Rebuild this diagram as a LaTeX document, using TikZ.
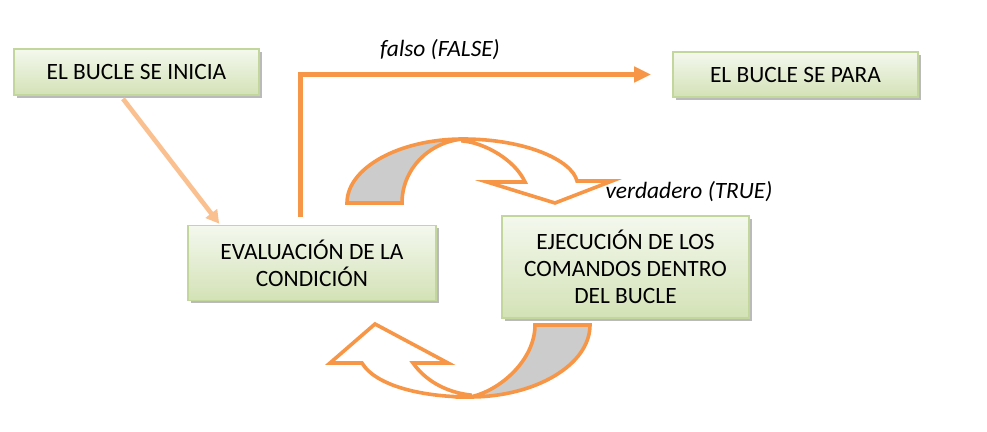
\documentclass[tikz,border=0pt]{standalone}
\usepackage{fontspec}
\setmainfont{Carlito}
\usepackage{xcolor}
\usepackage{tikz}
\usetikzlibrary{arrows.meta, positioning, shadows}
\definecolor{boxline}{HTML}{C3D69B}
\definecolor{boxtop}{HTML}{F4F8EE}
\definecolor{boxbottom}{HTML}{D3E2B6}
\definecolor{looporange}{HTML}{F79646}
\definecolor{startpeach}{HTML}{FAC090}
\definecolor{backgray}{HTML}{CCCCCC}

\begin{document}
\begin{tikzpicture}[x=0.5pt, y=-0.5pt,
	stepbox/.style={shape=rectangle, draw=boxline, line width=0.8pt, top color=boxtop, bottom color=boxbottom, inner sep=0pt, align=center, font=\fontsize{11.7}{13.6}\selectfont, drop shadow={shadow xshift=1.4pt, shadow yshift=-1.4pt, fill=black!45, opacity=0.6}},
	flowarrow/.style={draw=looporange, line width=2.5pt, -{Triangle[length=8.5pt, width=7.5pt]}},
	startarrow/.style={draw=startpeach, line width=2.3pt, -{Triangle[length=6.5pt, width=7pt]}},
	looparrow/.style={draw=looporange, line width=1.8pt, line join=miter},
	branchlabel/.style={font=\fontsize{11.7}{13.6}\selectfont\itshape}]
			\useasboundingbox (0, 0) rectangle (987, 432);
			% Boxes:
			\node[stepbox, minimum width=122.5pt, minimum height=23pt](inicio) at (136.5, 72){EL BUCLE SE INICIA};
			\node[stepbox, minimum width=122.5pt, minimum height=22.5pt](para) at (795.5, 74.5){EL BUCLE SE PARA};
			\node[stepbox, minimum width=124pt, minimum height=37.5pt](evaluacion) at (312, 263){EVALUACIÓN DE LA\\CONDICIÓN};
			\node[stepbox, minimum width=123.5pt, minimum height=51pt](ejecucion) at (625.5, 267){EJECUCIÓN DE LOS\\COMANDOS DENTRO\\DEL BUCLE};
			% Labels:
			\node[branchlabel](falso) at (440, 50){falso (FALSE)};
			\node[branchlabel](verdadero) at (689, 192){verdadero (TRUE)};
			% Connectors:
			\coordinate (salida) at (300, 217);
			\draw[startarrow] ([xshift=-6.75pt, yshift=-1.5pt]inicio.south) -- ([xshift=16pt, yshift=0.5pt]evaluacion.north west);
			\draw[flowarrow] (salida) |- ([xshift=-10.5pt]para.west);
			% Curved arrow, top (towards the commands):
			\draw[looparrow, fill=backgray] (347, 203) .. controls (347, 168) and (399, 139) .. (463, 139) .. controls (429, 142) and (402, 169) .. (402, 203) -- cycle;
			\draw[looparrow, fill=white] (463, 139) .. controls (525, 139) and (572, 160) .. (577, 181) -- (612, 181) -- (555, 203) -- (487, 182) -- (525, 182) .. controls (515, 160) and (485, 143) .. (463, 141) -- cycle;
			% Curved arrow, bottom (back to the condition):
			\draw[looparrow, fill=backgray] (590, 325) .. controls (590, 365) and (535, 397) .. (470, 397) .. controls (500, 391) and (535, 360) .. (535, 325) -- cycle;
			\draw[looparrow, fill=white] (470, 397) .. controls (420, 397) and (375, 385) .. (362, 363) -- (330, 363) -- (375, 324) -- (448, 363) -- (413, 363) .. controls (425, 380) and (445, 392) .. (470, 395) -- cycle;
		\end{tikzpicture}
\end{document}
